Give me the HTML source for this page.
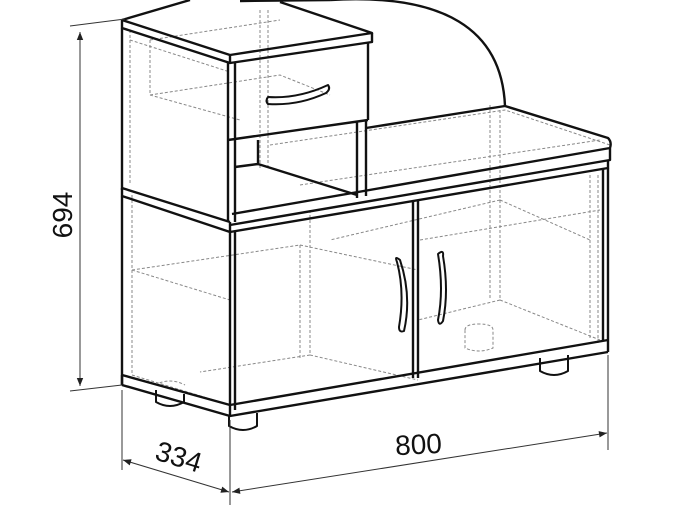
<!DOCTYPE html>
<html><head><style>html,body{margin:0;padding:0;background:#fff}svg{display:block}</style></head><body>
<svg width="677" height="521" viewBox="0 0 677 521" xmlns="http://www.w3.org/2000/svg" font-family="Liberation Sans, sans-serif">
<defs><marker id="a" viewBox="0 0 10 10" refX="10" refY="5" markerWidth="10" markerHeight="8" orient="auto-start-reverse"><path d="M0,1 L10,5 L0,9 z" fill="#222"/></marker></defs>
<g fill="none" stroke="#888" stroke-width="1" stroke-dasharray="3,2">
<path d="M130,30 V185 M260,10 V170 M268,10 V170 M130,40 L230,72"/>
<path d="M150,40 L280,20 M150,40 V95 L240,120 M150,95 L280,75 L330,95"/>
<path d="M132,195 V375 L230,405 M132,270 L230,300 M132,270 L300,245 M300,245 V360 M310,210 V355 M310,355 L418,380"/>
<path d="M300,245 L418,270 M310,355 L200,372 M420,240 L600,210 M300,185 L600,140 M490,105 V300 M500,110 V300 L600,340 M500,300 L418,320 M500,200 L590,240 M500,200 L330,240"/>
<path d="M590,175 V340 M598,175 V345 M270,145 L505,110 L610,145"/>
<path d="M465,330 q0,-6 14,-6 q14,0 14,6 v18 q-14,6 -28,0 z M155,385 q15,-8 30,0"/>
</g>
<g fill="none" stroke="#111" stroke-width="2.4" stroke-linejoin="round">
<path d="M122,20 L190,0 M122,20 L230,55 L372,33 L280,2 M240,1 L330,0"/>
<path d="M122,20 V28 L230,63 L372,42 V33 M230,55 V63"/>
<path d="M122,28 V190 M228,63 V222 M235,63 V222 M368,42 V120 M228,140 L368,120 M357,122 V198 M366,120 V196"/>
<path d="M268,97 q30,2 60,-12 q3,4 -2,8 q-28,13 -58,11 q-3,-3 0,-7z" stroke-width="2"/>
<path d="M235,167 L258,164 V140 M258,164 L357,195"/>
<path d="M330,0 Q500,-10 505,106"/>
<path d="M366,128 L505,106 L608,138 Q612,142 610,148 V160 L230,225 M610,148 L232,214"/>
<path d="M122,188 L230,222 M122,188 V196 L230,232 L608,168 V160 M230,222 V232"/>
<path d="M122,196 V385 M230,232 V416 M235,232 V410 M603,168 V340 M608,168 V352 M418,200 V378 M413,201 V378"/>
<path d="M122,375 L230,405 L608,340 M122,385 L230,416 L608,352 M122,375 V385"/>
<path d="M400,260 q-6,-5 -3,2 q8,30 2,65 q0,6 5,4 q8,-35 -4,-71z M438,254 q6,-5 5,2 q6,35 0,65 q-4,6 -5,-1 q6,-30 0,-66z" stroke-width="2"/>
<path d="M156,390 v12 q14,8 28,0 v-8 M229,416 v10 q14,8 28,0 v-13 M540,358 v13 q14,8 28,0 v-16" stroke-width="2"/>
</g>
<g stroke="#333" stroke-width="1" fill="none">
<path d="M70,26 L125,19 M70,391 L122,385 M122,390 V470 M230,420 V505 M608,355 V450"/>
<path d="M80,32 V386" marker-start="url(#a)" marker-end="url(#a)"/>
<path d="M123,460 L229,492" marker-start="url(#a)" marker-end="url(#a)"/>
<path d="M232,492 L607,433" marker-start="url(#a)" marker-end="url(#a)"/>
</g>
<g fill="#111" font-size="28">
<text transform="translate(72,215) rotate(-90)" text-anchor="middle">694</text>
<text transform="translate(176,466) rotate(17)" text-anchor="middle">334</text>
<text transform="translate(419,454) rotate(-3)" text-anchor="middle">800</text>
</g>
</svg>
</body></html>
